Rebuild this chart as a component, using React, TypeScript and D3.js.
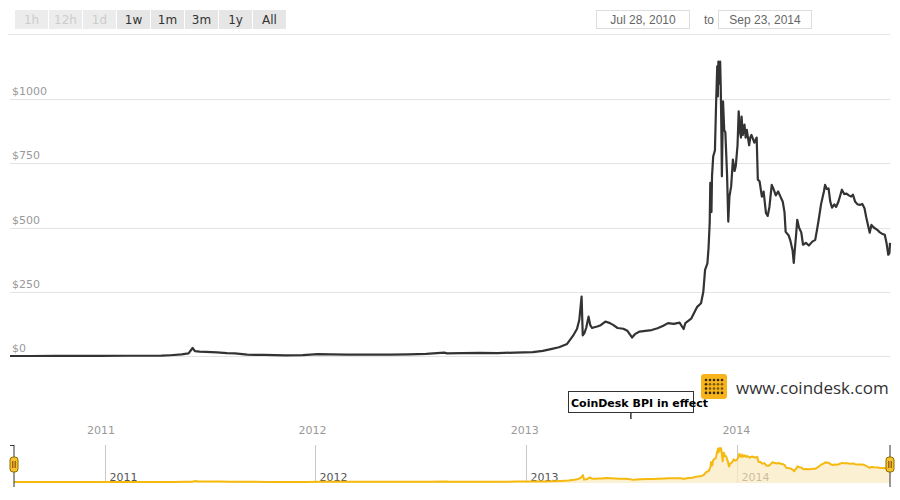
import React from 'react';
import * as d3 from 'd3';

// BPI close prices (USD)
const priceDates: string[] = [
  '2010-07-28', '2010-09-01', '2010-10-15', '2010-11-07', '2010-12-01',
  '2011-01-01', '2011-02-10', '2011-03-15', '2011-04-15', '2011-05-01', '2011-05-20',
  '2011-06-01', '2011-06-08', '2011-06-12', '2011-06-20', '2011-07-01', '2011-07-20',
  '2011-08-06', '2011-08-20', '2011-09-10', '2011-10-10', '2011-11-15', '2011-12-15',
  '2012-01-10', '2012-02-01', '2012-03-01', '2012-04-15', '2012-05-15', '2012-06-15',
  '2012-07-15', '2012-08-15', '2012-08-20', '2012-09-15', '2012-10-15', '2012-11-15',
  '2012-12-15', '2013-01-15', '2013-02-01', '2013-02-15', '2013-03-01', '2013-03-15',
  '2013-03-25', '2013-04-01', '2013-04-05', '2013-04-09', '2013-04-11', '2013-04-14',
  '2013-04-17', '2013-04-21', '2013-04-24', '2013-04-27', '2013-05-01', '2013-05-06',
  '2013-05-12', '2013-05-20', '2013-05-28', '2013-06-03', '2013-06-10', '2013-06-20',
  '2013-06-27', '2013-07-05', '2013-07-10', '2013-07-18', '2013-07-28', '2013-08-08',
  '2013-08-18', '2013-08-28', '2013-09-05', '2013-09-15', '2013-09-25', '2013-10-02',
  '2013-10-05', '2013-10-15', '2013-10-25', '2013-11-01', '2013-11-05', '2013-11-08',
  '2013-11-12', '2013-11-14', '2013-11-16', '2013-11-17', '2013-11-19', '2013-11-20',
  '2013-11-22', '2013-11-25', '2013-11-27', '2013-11-29', '2013-11-30', '2013-12-01',
  '2013-12-02', '2013-12-04', '2013-12-05',
  '2013-12-06', '2013-12-07', '2013-12-09', '2013-12-11', '2013-12-13', '2013-12-16',
  '2013-12-18', '2013-12-20', '2013-12-23', '2013-12-26', '2013-12-29', '2013-12-31', '2014-01-03',
  '2014-01-05', '2014-01-07', '2014-01-09', '2014-01-10', '2014-01-12', '2014-01-15', '2014-01-17', '2014-01-19',
  '2014-01-23', '2014-01-25', '2014-01-27', '2014-02-01', '2014-02-05', '2014-02-07', '2014-02-10',
  '2014-02-14', '2014-02-17', '2014-02-21', '2014-02-24', '2014-02-27', '2014-03-03',
  '2014-03-06', '2014-03-10', '2014-03-14', '2014-03-18', '2014-03-22', '2014-03-25',
  '2014-03-27', '2014-04-01', '2014-04-04', '2014-04-08', '2014-04-10', '2014-04-12',
  '2014-04-14', '2014-04-16', '2014-04-19', '2014-04-23', '2014-04-26', '2014-05-01',
  '2014-05-06', '2014-05-12', '2014-05-17', '2014-05-20', '2014-05-23', '2014-05-27',
  '2014-06-01', '2014-06-03', '2014-06-06', '2014-06-09', '2014-06-12', '2014-06-15',
  '2014-06-19', '2014-06-22', '2014-06-26', '2014-07-02', '2014-07-06', '2014-07-10',
  '2014-07-14', '2014-07-18', '2014-07-21', '2014-07-25', '2014-07-29', '2014-08-03',
  '2014-08-06', '2014-08-10', '2014-08-13', '2014-08-16', '2014-08-19', '2014-08-22',
  '2014-08-26', '2014-09-01', '2014-09-05', '2014-09-09', '2014-09-14', '2014-09-17',
  '2014-09-20', '2014-09-22', '2014-09-23',
];

const priceValues: number[] = [
  0.07, 0.06, 0.1, 0.4, 0.23,
  0.3, 1.0, 0.9, 1.1, 3, 6,
  10, 31, 19, 17, 16, 14,
  11, 10, 5, 4, 2.5, 3.5,
  7, 6, 5, 5, 5, 6,
  8, 13, 10, 11, 12, 11,
  13.5, 15, 20, 27, 34, 47,
  78, 105, 140, 231, 80, 90,
  110, 153, 120, 109, 112, 115,
  120, 134, 128, 120, 109, 106,
  98, 72, 85, 95, 98, 101,
  108, 118, 128, 125, 130, 105,
  128, 145, 190, 205, 250, 335,
  360, 420, 520, 674, 560, 700,
  776, 800, 980, 1127, 1010, 1146,
  1060, 1146, 1050,
  900, 699, 991, 880, 870, 700,
  523, 620, 660, 764, 720, 740, 820,
  952, 874, 850, 932, 860, 900, 850, 880,
  820, 850, 860, 830, 850, 686, 680,
  620, 640, 557, 545, 580, 666,
  650, 625, 640, 620, 600, 560,
  483, 470, 450, 410, 362, 420,
  470, 530, 500, 480, 433, 440,
  430, 445, 452, 490, 530, 590,
  640, 666, 650, 652, 600, 577,
  590, 580, 600, 647, 630, 632,
  625, 620, 628, 600, 590, 588,
  592, 575, 540, 510, 480, 510,
  500, 491, 482, 476, 472, 440,
  394, 400, 440,
];

const yTicks: number[] = [0, 250, 500, 750, 1000];
const yearTicks: string[] = ['2011-01-01', '2012-01-01', '2013-01-01', '2014-01-01'];
const rangeButtons: string[] = ['1h', '12h', '1d', '1w', '1m', '3m', '1y', 'All'];
const disabledButtons: string[] = ['1h', '12h', '1d'];
const rangeFrom = 'Jul 28, 2010';
const rangeTo = 'Sep 23, 2014';
const flagDate = '2013-07-03';
const flagText = 'CoinDesk BPI in effect';

const parse = d3.utcParse('%Y-%m-%d');

interface Point {
  date: Date;
  price: number;
}

const data: Point[] = priceDates.map((d, i) => ({ date: parse(d) as Date, price: priceValues[i] }));

const font = 'DejaVu Sans, sans-serif';

const App: React.FC = () => {
  const start = parse('2010-07-28') as Date;
  const end = parse('2014-09-23') as Date;

  const x = d3.scaleUtc().domain([start, end]).range([10, 890]);
  const y = d3.scaleLinear().domain([0, 1000]).range([356, 99]);

  const xNav = d3.scaleUtc().domain([start, end]).range([14, 890]);
  const yNav = d3.scaleLinear().domain([0, 1150]).range([482, 448]);

  const line = d3.line<Point>().x(d => x(d.date)).y(d => y(d.price));
  const navLine = d3.line<Point>().x(d => xNav(d.date)).y(d => yNav(d.price));
  const navArea = d3.area<Point>().x(d => xNav(d.date)).y0(483).y1(d => yNav(d.price));

  const flagX = x(parse(flagDate) as Date);
  const fmtYear = d3.utcFormat('%Y');

  const handle = (hx: number) => (
    <g key={hx}>
      <line x1={hx} x2={hx} y1={445} y2={487} stroke="#333" strokeWidth={1} />
      <rect x={hx - 4} y={457} width={8} height={15} rx={3} fill="#f5c12e" stroke="#8c6d00" strokeWidth={1} />
      <line x1={hx - 1.2} x2={hx - 1.2} y1={461} y2={468} stroke="#7a3b00" strokeWidth={1} />
      <line x1={hx + 1.2} x2={hx + 1.2} y1={461} y2={468} stroke="#7a3b00" strokeWidth={1} />
    </g>
  );

  return (
    <div style={{ position: 'absolute', left: 0, top: 0 }}>
      <svg width={900} height={500} style={{ display: 'block', background: '#fff' }}>
        {/* range selector */}
        {rangeButtons.map((b, i) => {
          const off = disabledButtons.includes(b);
          return (
            <g key={b} transform={`translate(${15 + i * 34},10)`}>
              <rect width={33} height={19} fill={off ? '#ececec' : '#e6e6e6'} />
              <text x={16.5} y={14} textAnchor="middle" fontFamily={font} fontSize={12}
                fill={off ? '#cccccc' : '#333'}>{b}</text>
            </g>
          );
        })}
        <rect x={596.5} y={10.5} width={93} height={18} fill="#fff" stroke="#ddd" />
        <text x={643} y={24} textAnchor="middle" fontFamily="Liberation Sans, Arial, sans-serif" fontSize={12} fill="#666">{rangeFrom}</text>
        <text x={704} y={24} fontFamily="Liberation Sans, Arial, sans-serif" fontSize={12} fill="#666">to</text>
        <rect x={718.5} y={10.5} width={93} height={18} fill="#fff" stroke="#ddd" />
        <text x={765} y={24} textAnchor="middle" fontFamily="Liberation Sans, Arial, sans-serif" fontSize={12} fill="#666">{rangeTo}</text>
        <line x1={8} x2={890} y1={34.5} y2={34.5} stroke="#e6e6e6" />

        {/* y grid */}
        {yTicks.map(t => (
          <g key={t}>
            <line x1={10} x2={890} y1={Math.round(y(t)) + 0.5} y2={Math.round(y(t)) + 0.5} stroke="#e3e3e3" />
            <text x={12} y={y(t) - 4} fontFamily={font} fontSize={11} fill="#999">${t}</text>
          </g>
        ))}

        {/* price line */}
        <path d={line(data) as string} fill="none" stroke="#333" strokeWidth={2.2} strokeLinejoin="round" />

        {/* year labels */}
        {yearTicks.map(t => {
          const d = parse(t) as Date;
          return (
            <text key={t} x={x(d)} y={434} textAnchor="middle" fontFamily={font} fontSize={11} fill="#999">{fmtYear(d)}</text>
          );
        })}

        {/* flag */}
        <rect x={568.5} y={391.5} width={125} height={21} fill="#fff" stroke="#333" />
        <line x1={flagX} x2={flagX} y1={412} y2={419} stroke="#333" strokeWidth={1.5} />
        <text x={571} y={407} fontFamily={font} fontSize={11} fontWeight="bold" fill="#000">{flagText}</text>

        {/* logo */}
        <rect x={701} y={374} width={26} height={25} rx={3} fill="#f7b51b" />
        {d3.range(4).map(r => d3.range(5).map(c => (
          <circle key={`${r}-${c}`} cx={706 + c * 4} cy={380 + r * 4.3} r={1.3}
            fill={(r === 0 || r === 3 || c === 0) ? '#3b2a00' : '#7a5a10'} />
        )))}
        <text x={736} y={394} fontFamily="Open Sans, sans-serif" fontSize={17} fill="#333">www.coindesk.com</text>

        {/* navigator */}
        {yearTicks.map(t => {
          const d = parse(t) as Date;
          const nx = Math.round(xNav(d)) + 0.5;
          return (
            <g key={t}>
              <line x1={nx} x2={nx} y1={445} y2={483} stroke="#c8c8c8" />
              <text x={nx + 4} y={481} fontFamily={font} fontSize={11} fill="#555">{fmtYear(d)}</text>
            </g>
          );
        })}
        <path d={navArea(data) as string} fill="#fbe9bf" fillOpacity={0.7} />
        <path d={navLine(data) as string} fill="none" stroke="#f5b90f" strokeWidth={2} strokeLinejoin="round" />
        <line x1={10} x2={14} y1={445.5} y2={445.5} stroke="#333" />
        {handle(14)}
        {handle(890)}
      </svg>
    </div>
  );
};

export default App;
